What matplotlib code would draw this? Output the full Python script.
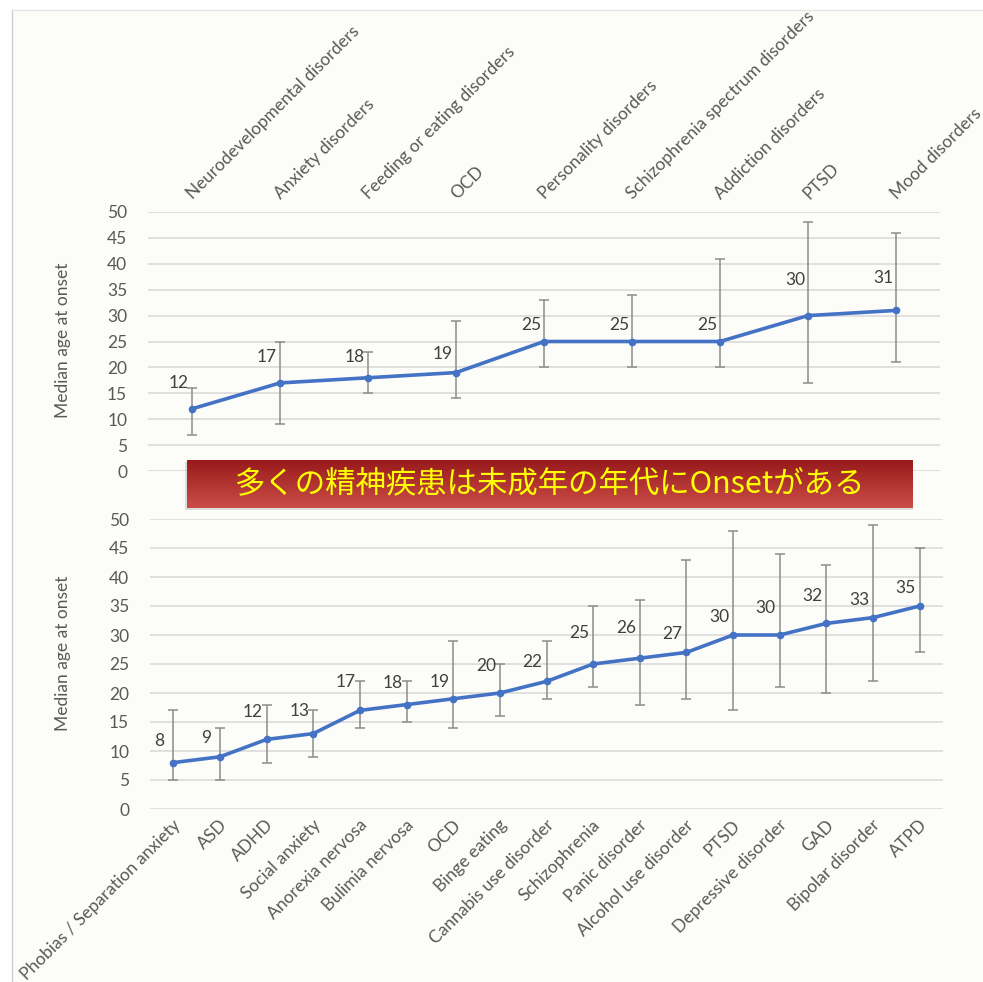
import numpy as np
import matplotlib
matplotlib.use("Agg")
import matplotlib.pyplot as plt
import matplotlib.transforms as mtransforms
from matplotlib.patches import Rectangle
from matplotlib.lines import Line2D

# ---------------- data ----------------
top_categories = ["Neurodevelopmental disorders", "Anxiety disorders", "Feeding or eating disorders",
                  "OCD", "Personality disorders", "Schizophrenia spectrum disorders",
                  "Addiction disorders", "PTSD", "Mood disorders"]
top_median = [12, 17, 18, 19, 25, 25, 25, 30, 31]
top_low = [7, 9, 15, 14, 20, 20, 20, 17, 21]
top_high = [16, 25, 23, 29, 33, 34, 41, 48, 46]

bot_categories = ["Phobias / Separation anxiety", "ASD", "ADHD", "Social anxiety", "Anorexia nervosa",
                  "Bulimia nervosa", "OCD", "Binge eating", "Cannabis use disorder", "Schizophrenia",
                  "Panic disorder", "Alcohol use disorder", "PTSD", "Depressive disorder", "GAD",
                  "Bipolar disorder", "ATPD"]
bot_median = [8, 9, 12, 13, 17, 18, 19, 20, 22, 25, 26, 27, 30, 30, 32, 33, 35]
bot_low = [5, 5, 8, 9, 14, 15, 14, 16, 19, 21, 18, 19, 17, 21, 20, 22, 27]
bot_high = [17, 14, 18, 17, 22, 22, 29, 25, 29, 35, 36, 43, 48, 44, 42, 49, 45]

y_ticks = [0, 5, 10, 15, 20, 25, 30, 35, 40, 45, 50]
y_label = "Median age at onset"
banner_text = "多くの精神疾患は未成年の年代にOnsetがある"

# ---------------- layout / style ----------------
# vertical offsets (pixels) of the value labels above their points, as placed in the reference
top_label_dy = [26, 26, 21, 19, 17, 17, 17, 36, 32]
bot_label_dy = [22, 19, 27, 23, 28, 22, 17, 27, 19, 31, 30, 18, 18, 27, 27, 18, 18]

W, H = 983, 982
FONT = "Lato"
TXT = "#595959"
LINE = "#4472C4"
ERR = "#8C8C8C"
GRID = "#DEDEDE"
PANEL = "#FCFCF9"
FS = 12.5

fig = plt.figure(figsize=(W / 100, H / 100), dpi=100)
fig.patch.set_facecolor("white")

def fx(px):
    return px / W

def fy(py):
    return 1 - py / H

# panel background with left/top border
fig.patches.append(Rectangle((fx(12), 0), 1 - fx(12), fy(10), transform=fig.transFigure,
                             facecolor=PANEL, edgecolor="none", zorder=-10))
fig.lines.append(Line2D([fx(12), fx(12)], [0, fy(10)], transform=fig.transFigure, color="#CFCFCF",
                        lw=1, zorder=-9))
fig.lines.append(Line2D([fx(12), 1], [fy(10), fy(10)], transform=fig.transFigure, color="#E6E6E6",
                        lw=1, zorder=-9))


def make_panel(rect, cats, med, lo, hi, top_labels, dx, dys, lab_shift):
    ax = fig.add_axes(rect)
    ax.set_facecolor("none")
    x = np.arange(len(cats))
    med = np.array(med)
    yerr = np.vstack([med - np.array(lo), np.array(hi) - med])
    ax.errorbar(x, med, yerr=yerr, fmt="none", ecolor=ERR, elinewidth=1.1, capsize=3.5,
                capthick=1.1, zorder=2)
    ax.plot(x, med, color=LINE, lw=2.6, marker="o", ms=4.5, zorder=3, solid_capstyle="round")
    for xi, yi, dy in zip(x, med, dys):
        ax.annotate(str(yi), (xi, yi), xytext=(dx, dy), textcoords="offset pixels",
                    ha="center", va="center", fontsize=FS, color="#404040", family=FONT)
    ax.set_xlim(-0.5, len(cats) - 0.5)
    ax.set_ylim(0, 50)
    ax.set_yticks(y_ticks)
    ax.set_yticklabels([str(t) for t in y_ticks], fontsize=FS, color=TXT, family=FONT)
    ax.yaxis.grid(True, color=GRID, lw=1.3)
    ax.set_axisbelow(True)
    for s in ax.spines.values():
        s.set_visible(False)
    ax.tick_params(axis="y", length=0, pad=15)
    ax.tick_params(axis="x", length=0)
    ax.set_xticks(x)
    if top_labels:
        ax.xaxis.tick_top()
        ax.set_xticklabels(cats, rotation=45, ha="left", va="bottom", rotation_mode="anchor",
                           fontsize=FS, color=TXT, family=FONT)
    else:
        ax.set_xticklabels(cats, rotation=45, ha="right", va="top", rotation_mode="anchor",
                           fontsize=FS, color=TXT, family=FONT)
    ax.tick_params(axis="x", pad=10)
    off = mtransforms.ScaledTranslation(lab_shift[0] / 100, lab_shift[1] / 100, fig.dpi_scale_trans)
    for lab in ax.get_xticklabels():
        lab.set_transform(lab.get_transform() + off)
    return ax

ax1 = make_panel([fx(148), fy(471), fx(940) - fx(148), fy(212) - fy(471)],
                 top_categories, top_median, top_low, top_high, True, -13, top_label_dy, (3, -4))
ax2 = make_panel([fx(150), fy(809), fx(943) - fx(150), fy(519) - fy(809)],
                 bot_categories, bot_median, bot_low, bot_high, False, -14, bot_label_dy, (-1, 6))

fig.text(fx(63), fy(340), y_label, rotation=90, ha="center", va="center", fontsize=FS,
         color=TXT, family=FONT)
fig.text(fx(63), fy(653), y_label, rotation=90, ha="center", va="center", fontsize=FS,
         color=TXT, family=FONT)

# banner with shadow and gradient
bx0, bx1, by0, by1 = 187, 912, 460, 508
fig.patches.append(Rectangle((fx(bx0 - 2), fy(by1 + 2)), fx(bx1 - bx0 + 3), fy(by0) - fy(by1),
                             transform=fig.transFigure, facecolor="#000000", alpha=0.12,
                             edgecolor="none", zorder=4))
bax = fig.add_axes([fx(bx0), fy(by1), fx(bx1 - bx0), fy(by0) - fy(by1)], zorder=5)
top_c = np.array([0x98, 0x1A, 0x1A]) / 255
bot_c = np.array([0xCB, 0x4E, 0x4A]) / 255
t = np.linspace(0, 1, 64)[:, None, None]
grad = top_c * (1 - t) + bot_c * t
grad = np.repeat(grad, 4, axis=1)
bax.imshow(grad, aspect="auto", extent=[0, 1, 0, 1], interpolation="bilinear")
bax.set_axis_off()
bax.text(0.5, 0.5, banner_text, ha="center", va="center", fontsize=21.9, color="#FFFF00",
         family=["Noto Sans CJK JP", "DejaVu Sans"], transform=bax.transAxes)

fig.savefig("out.png", dpi=100, facecolor="white")
